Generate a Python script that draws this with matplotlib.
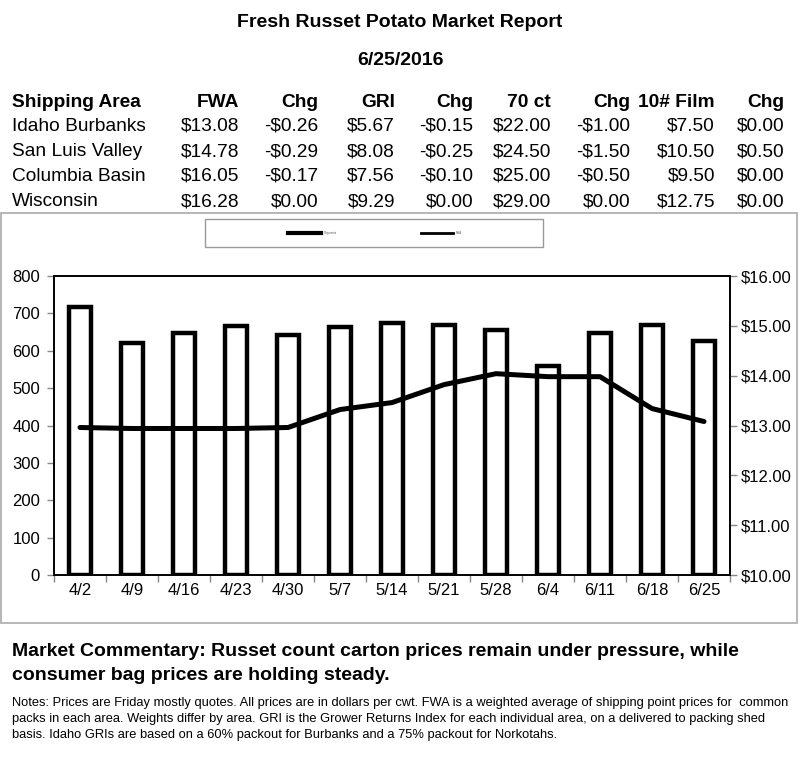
import matplotlib.pyplot as plt
from matplotlib.patches import Rectangle
from matplotlib.lines import Line2D
from matplotlib.ticker import FixedLocator, NullFormatter

plt.rcParams['font.family'] = ['Liberation Sans', 'DejaVu Sans']

# table data
areas = ["Idaho Burbanks", "San Luis Valley", "Columbia Basin", "Wisconsin"]
headers = ["Shipping Area", "FWA", "Chg", "GRI", "Chg", "70 ct", "Chg", "10# Film", "Chg"]
fwa = ["$13.08", "$14.78", "$16.05", "$16.28"]
fwa_chg = ["-$0.26", "-$0.29", "-$0.17", "$0.00"]
gri = ["$5.67", "$8.08", "$7.56", "$9.29"]
gri_chg = ["-$0.15", "-$0.25", "-$0.10", "$0.00"]
ct70 = ["$22.00", "$24.50", "$25.00", "$29.00"]
ct70_chg = ["-$1.00", "-$1.50", "-$0.50", "$0.00"]
film = ["$7.50", "$10.50", "$9.50", "$12.75"]
film_chg = ["$0.00", "$0.50", "$0.00", "$0.00"]

# chart data
weeks = ["4/2", "4/9", "4/16", "4/23", "4/30", "5/7", "5/14", "5/21", "5/28", "6/4", "6/11", "6/18", "6/25"]
shipments = [716, 621, 647, 667, 641, 664, 673, 669, 656, 560, 648, 669, 627]
fwa_price = [12.96, 12.94, 12.94, 12.94, 12.96, 13.32, 13.46, 13.82, 14.04, 13.98, 13.98, 13.34, 13.08]

W, H = 800, 757
fig = plt.figure(figsize=(8, 7.57), dpi=100)


def fx(px):
    return px / W


def fy(py):
    return 1 - py / H


fig.text(0.5, fy(27), "Fresh Russet Potato Market Report", ha='center', va='baseline',
         fontsize=14, fontweight='bold')
fig.text(0.5, fy(65), "6/25/2016", ha='center', va='baseline', fontsize=14, fontweight='bold')

# table
col_x = [12, 239, 318, 395, 473, 551, 630, 715, 784]
columns = [areas, fwa, fwa_chg, gri, gri_chg, ct70, ct70_chg, film, film_chg]
for i, h in enumerate(headers):
    fig.text(fx(col_x[i]), fy(107), h, ha='left' if i == 0 else 'right', va='baseline',
             fontsize=13.8, fontweight='bold')
for r in range(len(areas)):
    y = 131 + r * 25
    for i, col in enumerate(columns):
        fig.text(fx(col_x[i]), fy(y), col[r], ha='left' if i == 0 else 'right',
                 va='baseline', fontsize=13.8)

# outer gray frame and legend box
fig.patches.append(Rectangle((fx(1), fy(623)), fx(796), (623 - 213) / H, transform=fig.transFigure,
                             fill=False, edgecolor='#aaaaaa', linewidth=1.2))
fig.patches.append(Rectangle((fx(205), fy(247)), fx(338), 28 / H, transform=fig.transFigure,
                             fill=False, edgecolor='#999999', linewidth=1.0))
fig.lines.append(Line2D([fx(288), fx(321)], [fy(233), fy(233)], transform=fig.transFigure,
                        color='black', linewidth=3))
fig.lines.append(Line2D([fx(421), fx(453)], [fy(233), fy(233)], transform=fig.transFigure,
                        color='black', linewidth=2))
fig.text(fx(324), fy(233), "Shipments", fontsize=2, va='center', color='#555555')
fig.text(fx(456), fy(233), "FWA", fontsize=2, va='center', color='#555555')

# chart
ax = fig.add_axes([fx(54), fy(575), fx(730 - 54), (575 - 276) / H])
x = list(range(len(weeks)))
ax.bar(x, shipments, width=0.41, color='white', edgecolor='black', linewidth=3.2, zorder=2)
ax.set_ylim(0, 800)
ax.set_yticks(range(0, 801, 100))
ax.set_xlim(-0.5, len(weeks) - 0.5)
ax.set_xticks(x)
ax.set_xticklabels(weeks)
ax.xaxis.set_minor_locator(FixedLocator([i - 0.5 for i in range(len(weeks) + 1)]))
ax.xaxis.set_minor_formatter(NullFormatter())
ax.tick_params(axis='x', which='major', length=0, pad=6, labelsize=12)
ax.tick_params(axis='x', which='minor', length=5, width=1, color='#888888')
ax.tick_params(axis='y', length=5, width=1, pad=5, labelsize=12, color='#888888')
for s in ax.spines.values():
    s.set_linewidth(1.2)

ax2 = ax.twinx()
ax2.plot(x, fwa_price, color='black', linewidth=3.6, solid_capstyle='round', zorder=3)
ax2.set_ylim(10, 16)
ax2.set_yticks(range(10, 17))
ax2.set_yticklabels(["$%d.00" % v for v in range(10, 17)])
ax2.tick_params(axis='y', length=5, width=1, pad=3, labelsize=12, color='#888888')
for s in ax2.spines.values():
    s.set_linewidth(1.2)

# commentary and notes
fig.text(fx(12), fy(656), "Market Commentary: Russet count carton prices remain under pressure, while",
         fontsize=14, fontweight='bold', va='baseline')
fig.text(fx(12), fy(680), "consumer bag prices are holding steady.",
         fontsize=14, fontweight='bold', va='baseline')
notes = ["Notes: Prices are Friday mostly quotes. All prices are in dollars per cwt. FWA is a weighted average of shipping point prices for  common",
         "packs in each area. Weights differ by area. GRI is the Grower Returns Index for each individual area, on a delivered to packing shed",
         "basis. Idaho GRIs are based on a 60% packout for Burbanks and a 75% packout for Norkotahs."]
for i, line in enumerate(notes):
    fig.text(fx(12), fy(706 + i * 16), line, fontsize=9.3, va='baseline')

fig.savefig("out.png", dpi=100)
